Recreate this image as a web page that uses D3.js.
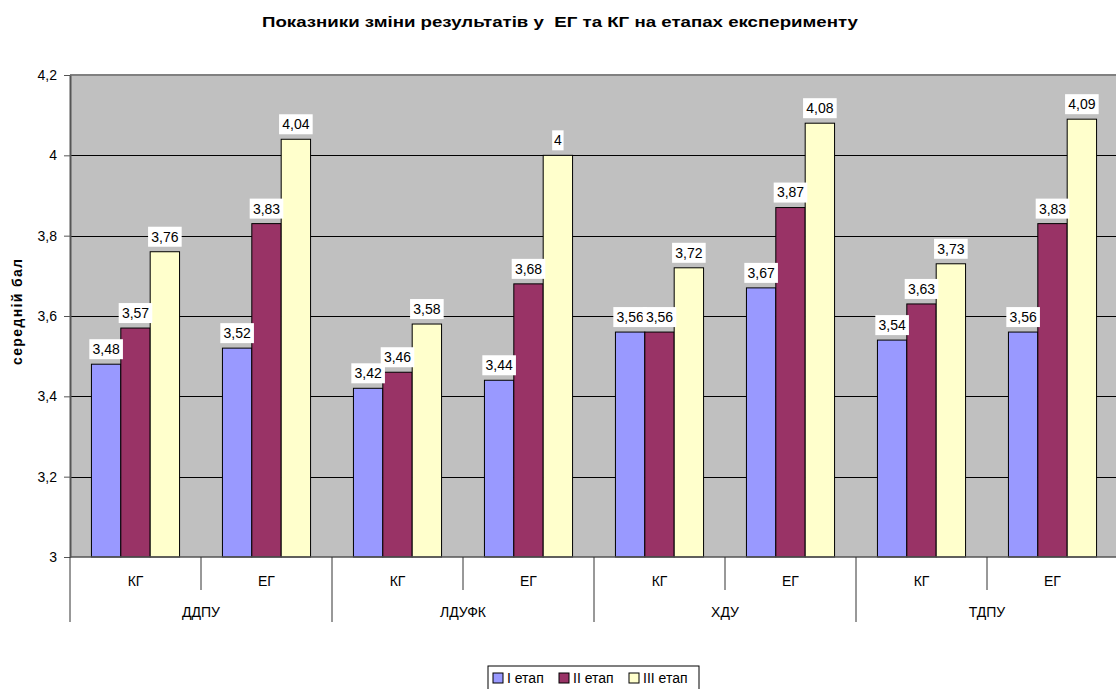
<!DOCTYPE html>
<html>
<head>
<meta charset="utf-8">
<script src="https://cdn.jsdelivr.net/npm/d3@7"></script>
<style>
  body { margin: 0; background: #fff; }
  text { font-family: "Liberation Sans", Arial, sans-serif; fill: #000; }
</style>
</head>
<body>
<div id="graph"></div>
<script>
// дані з діаграми
var universities = ["ДДПУ", "ЛДУФК", "ХДУ", "ТДПУ"];
var groups = ["КГ", "ЕГ"];
var stages = ["I етап", "II етап", "III етап"];
var stage1 = [3.48, 3.52, 3.42, 3.44, 3.56, 3.67, 3.54, 3.56];
var stage2 = [3.57, 3.83, 3.46, 3.68, 3.56, 3.87, 3.63, 3.83];
var stage3 = [3.76, 4.04, 3.58, 4.00, 3.72, 4.08, 3.73, 4.09];
var yTicks = [3, 3.2, 3.4, 3.6, 3.8, 4, 4.2];

var width = 1116, height = 689;
var pLeft = 70, pRight = 1118, pTop = 75, pBottom = 557;
var colors = ["#9999ff", "#993366", "#ffffcc"];

var svg = d3.select("#graph").append("svg")
  .attr("width", width)
  .attr("height", height);

// категорії: пари університет/група
var cats = [];
universities.forEach(function(u){
  groups.forEach(function(g){ cats.push(u + "|" + g); });
});
var series = [stage1, stage2, stage3];

var xScale = d3.scaleBand()
  .domain(cats)
  .range([pLeft, pRight])
  .paddingInner(0)
  .paddingOuter(0);

var xInner = d3.scaleBand()
  .domain(d3.range(3))
  .range([0, xScale.bandwidth()])
  .paddingOuter(0.73)
  .paddingInner(0);

var uScale = d3.scaleBand()
  .domain(universities)
  .range([pLeft, pRight]);

var yScale = d3.scaleLinear()
  .domain([3, 4.2])
  .range([pBottom, pTop]);

// фон області побудови
svg.append("rect")
  .attr("x", pLeft).attr("y", pTop)
  .attr("width", pRight - pLeft).attr("height", pBottom - pTop)
  .attr("fill", "#c0c0c0");

// сітка
svg.append("g")
  .selectAll("line")
  .data(yTicks.slice(1))
  .join("line")
  .attr("x1", pLeft).attr("x2", pRight)
  .attr("y1", function(d){ return Math.round(yScale(d)) + 0.5; })
  .attr("y2", function(d){ return Math.round(yScale(d)) + 0.5; })
  .attr("stroke", "#000")
  .attr("stroke-width", 1);

svg.append("line")
  .attr("x1", pLeft).attr("x2", pRight)
  .attr("y1", pTop).attr("y2", pTop)
  .attr("stroke", "#808080")
  .attr("stroke-width", 2);

// стовпчики
var bars = [];
series.forEach(function(s, si){
  s.forEach(function(v, ci){ bars.push({s: si, c: cats[ci], v: v}); });
});

svg.append("g")
  .selectAll("rect")
  .data(bars)
  .join("rect")
  .attr("x", function(d){ return xScale(d.c) + xInner(d.s); })
  .attr("y", function(d){ return yScale(d.v); })
  .attr("width", xInner.bandwidth())
  .attr("height", function(d){ return yScale(3) - yScale(d.v); })
  .attr("fill", function(d){ return colors[d.s]; })
  .attr("stroke", "#000")
  .attr("stroke-width", 1);

// підписи значень
var fmt = function(v){ return String(+v.toFixed(2)).replace(".", ","); };
var lbl = svg.append("g").selectAll("g")
  .data(bars)
  .join("g")
  .attr("transform", function(d){
    return "translate(" + (xScale(d.c) + xInner(d.s) + xInner.bandwidth() / 2) + "," + (yScale(d.v) - 15) + ")";
  });
lbl.append("rect")
  .attr("x", function(d){ return -fmt(d.v).length * 3.7 - 2; })
  .attr("y", -10)
  .attr("width", function(d){ return fmt(d.v).length * 7.4 + 4; })
  .attr("height", 20)
  .attr("fill", "#fff");
lbl.append("text")
  .attr("text-anchor", "middle")
  .attr("dy", "0.35em")
  .attr("font-size", 14)
  .text(function(d){ return fmt(d.v); });

// вісь Y
var yAxis = svg.append("g")
  .attr("transform", "translate(" + pLeft + ",0)")
  .call(d3.axisLeft(yScale).tickValues(yTicks)
    .tickFormat(function(d){ return String(d).replace(".", ","); })
    .tickSize(6).tickSizeOuter(0));
yAxis.select(".domain").attr("stroke", "#555").attr("stroke-width", 2);
yAxis.selectAll(".tick line").attr("stroke", "#555");
yAxis.selectAll(".tick text")
  .attr("font-size", 14)
  .attr("font-family", "Liberation Sans, Arial, sans-serif")
  .attr("x", -13);

// вісь X (дворівнева)
svg.append("line")
  .attr("x1", pLeft).attr("x2", pRight)
  .attr("y1", pBottom).attr("y2", pBottom)
  .attr("stroke", "#555").attr("stroke-width", 1.5);

svg.append("g").selectAll("line")
  .data(cats)
  .join("line")
  .attr("x1", function(d){ return xScale(d); })
  .attr("x2", function(d){ return xScale(d); })
  .attr("y1", pBottom)
  .attr("y2", function(d){ return d.split("|")[1] === groups[0] ? 622 : 590; })
  .attr("stroke", "#333");

svg.append("g").selectAll("text")
  .data(cats)
  .join("text")
  .attr("x", function(d){ return xScale(d) + xScale.bandwidth() / 2; })
  .attr("y", 581)
  .attr("dy", "0.35em")
  .attr("text-anchor", "middle")
  .attr("font-size", 14)
  .text(function(d){ return d.split("|")[1]; });

svg.append("g").selectAll("text")
  .data(universities)
  .join("text")
  .attr("x", function(d){ return uScale(d) + uScale.bandwidth() / 2; })
  .attr("y", 612)
  .attr("dy", "0.35em")
  .attr("text-anchor", "middle")
  .attr("font-size", 14)
  .text(function(d){ return d; });

// заголовок
svg.append("text")
  .attr("x", 560).attr("y", 27)
  .attr("text-anchor", "middle")
  .attr("font-size", 15.5)
  .attr("font-weight", "bold")
  .attr("textLength", 596)
  .attr("lengthAdjust", "spacingAndGlyphs")
  .style("white-space", "pre")
  .text("Показники зміни результатів у  ЕГ та КГ на етапах експерименту");

svg.append("text")
  .attr("transform", "translate(22," + ((pTop + pBottom) / 2 - 4) + ") rotate(-90)")
  .attr("text-anchor", "middle")
  .attr("font-size", 14)
  .attr("font-weight", "bold")
  .attr("textLength", 106)
  .text("середній бал");

// легенда
var lg = svg.append("g").attr("transform", "translate(488,666)");
lg.append("rect")
  .attr("width", 211).attr("height", 26)
  .attr("fill", "#fff").attr("stroke", "#000");
var lx = [5, 71, 141];
stages.forEach(function(s, i){
  lg.append("rect")
    .attr("x", lx[i]).attr("y", 7)
    .attr("width", 10).attr("height", 10)
    .attr("fill", colors[i]).attr("stroke", "#000");
  lg.append("text")
    .attr("x", lx[i] + 14).attr("y", 12)
    .attr("dy", "0.35em")
    .attr("font-size", 14)
    .text(s);
});
</script>
</body>
</html>
